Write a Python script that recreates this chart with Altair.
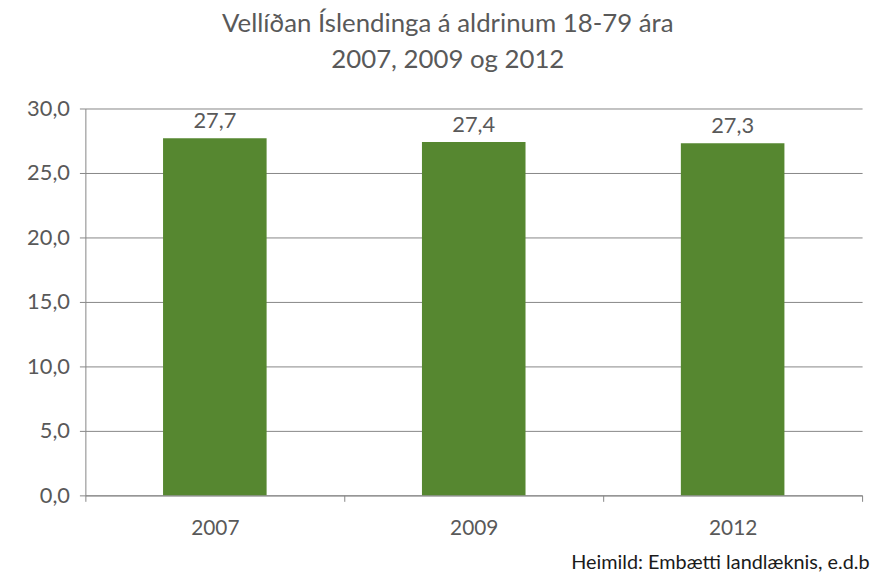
import altair as alt
import pandas as pd

years = ["2007", "2009", "2012"]
values = [27.7, 27.4, 27.3]
title_lines = ["Vellíðan Íslendinga á aldrinum 18-79 ára", "2007, 2009 og 2012"]
source = "Heimild: Embætti landlæknis, e.d.b"

df = pd.DataFrame({"year": years, "value": values})
df["label"] = [f"{v:.1f}".replace(".", ",") for v in values]

FONT = "Lato"
TXT = "#595959"
GRID = "#868686"

base = alt.Chart(df).encode(
    x=alt.X(
        "year:N",
        sort=years,
        scale=alt.Scale(paddingInner=0, paddingOuter=0),
        axis=alt.Axis(
            title=source,
            titleFont=FONT,
            titleFontSize=20,
            titleFontWeight="normal",
            titleColor="#1a1a1a",
            titleAlign="right",
            titleBaseline="alphabetic",
            titleX=790,
            titleY=74,
            labelAngle=0,
            labelFont=FONT,
            labelFontSize=21,
            labelColor=TXT,
            labelPadding=16,
            ticks=True,
            tickBand="extent",
            tickSize=6,
            tickColor=GRID,
            domainColor=GRID,
            grid=False,
        ),
    ),
    y=alt.Y(
        "value:Q",
        scale=alt.Scale(domain=[0, 30], nice=False),
        axis=alt.Axis(
            title=None,
            values=[0, 5, 10, 15, 20, 25, 30],
            labelExpr="replace(format(datum.value, '.1f'), '.', ',')",
            labelFont=FONT,
            labelFontSize=22,
            labelColor=TXT,
            labelPadding=10,
            tickSize=6,
            tickColor=GRID,
            domainColor=GRID,
            gridColor=GRID,
            grid=True,
        ),
    ),
)

bars = base.mark_bar(color="#568730", width=alt.RelativeBandSize(0.4))
labels = base.mark_text(
    baseline="bottom", dy=-5, font=FONT, fontSize=22, color=TXT
).encode(text="label:N")

chart = (
    alt.layer(bars, labels)
    .properties(
        width=783,
        height=390,
        title=alt.TitleParams(
            text=title_lines,
            font=FONT,
            fontSize=26,
            fontWeight="normal",
            color=TXT,
            anchor="middle",
            frame="bounds",
            lineHeight=36,
            offset=25,
        ),
        padding={"left": 18, "top": 1, "right": 5, "bottom": 5},
    )
    .configure_view(stroke=None)
)

chart.save("out.html", embed_options={"renderer": "svg", "actions": False})
